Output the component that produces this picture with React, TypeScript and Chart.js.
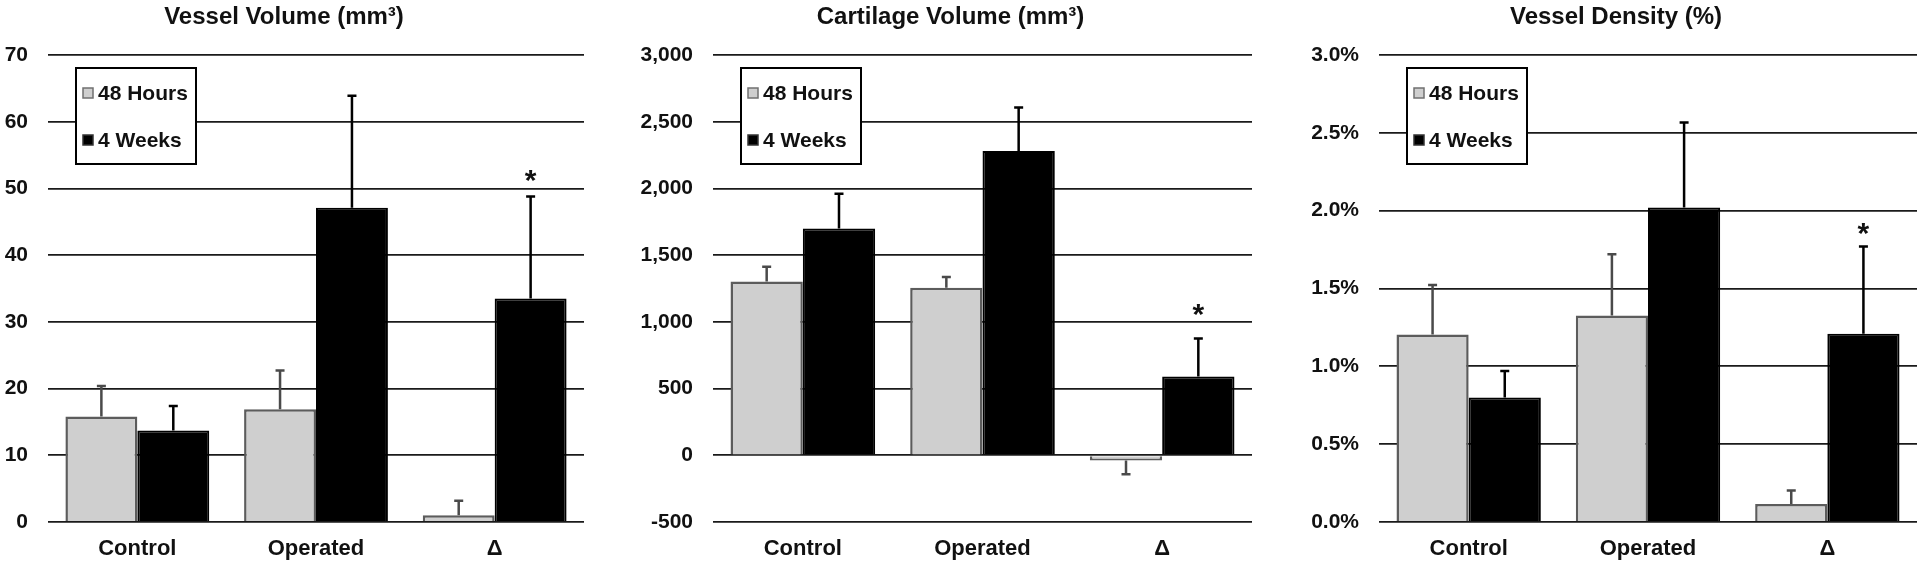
import { useEffect, useRef } from "react";
import { Chart, registerables } from "chart.js";

Chart.register(...registerables);

// ---------- data ----------
const categories = ["Control", "Operated", "Δ"];
const seriesLabels = ["48 Hours", "4 Weeks"];

// Vessel Volume (mm³)
const vesselVolume48h = [15.8, 16.9, 1.0];
const vesselVolume48hSD = [4.6, 5.8, 2.2];
const vesselVolume4w = [13.7, 47.1, 33.5];
const vesselVolume4wSD = [3.7, 16.8, 15.3];
const vesselVolumeStar = [null, null, 52.3];
const vesselVolumeTicks = { min: 0, max: 70, step: 10 };

// Cartilage Volume (mm³)
const cartilage48h = [1302, 1256, -40];
const cartilage48hSD = [111, 81, 103];
const cartilage4w = [1700, 2280, 590];
const cartilage4wSD = [260, 327, 286];
const cartilageStar = [null, null, 1110];
const cartilageTicks = { min: -500, max: 3000, step: 500 };

// Vessel Density (%)
const density48h = [1.205, 1.327, 0.115];
const density48hSD = [0.318, 0.393, 0.088];
const density4w = [0.8, 2.02, 1.21];
const density4wSD = [0.17, 0.546, 0.56];
const densityStar = [null, null, 1.9];
const densityTicks = { min: 0, max: 3, step: 0.5 };

// ---------- style ----------
const FONT = '"Liberation Sans", Arial, Helvetica, sans-serif';
const TEXT = "#111111";
const LIGHT_FILL = "#cfcfcf";
const LIGHT_BORDER = "#5c5c5c";
const DARK_FILL = "#000000";
const DARK_BORDER = "#000000";

type PanelCfg = {
  title: string;
  s1: number[];
  s1sd: number[];
  s2: number[];
  s2sd: number[];
  star: (number | null)[];
  ticks: { min: number; max: number; step: number };
  fmt: (v: number) => string;
  left: number;
  width: number;
  axisWidth: number;
  padRight: number;
};

const decorPlugin = {
  id: "decor",
  afterDatasetsDraw(chart: any, _args: any, opts: any) {
    const ctx = chart.ctx;
    const yScale = chart.scales.y;
    const sds: number[][] = opts.sds;
    ctx.save();
    chart.data.datasets.forEach((ds: any, i: number) => {
      const meta = chart.getDatasetMeta(i);
      meta.data.forEach((el: any, j: number) => {
        const v = ds.data[j] as number;
        const sd = sds[i][j];
        const end = v >= 0 ? v + sd : v - sd;
        const yEnd = yScale.getPixelForValue(end);
        const yStart = yScale.getPixelForValue(v);
        ctx.strokeStyle = i === 0 ? "#4a4a4a" : "#000";
        ctx.lineWidth = 2.5;
        ctx.beginPath();
        ctx.moveTo(el.x, yStart);
        ctx.lineTo(el.x, yEnd);
        ctx.moveTo(el.x - 4.5, yEnd);
        ctx.lineTo(el.x + 4.5, yEnd);
        ctx.stroke();
      });
    });
    // asterisks on the second series
    const stars: (number | null)[] = opts.star;
    const meta2 = chart.getDatasetMeta(1);
    stars.forEach((s, j) => {
      if (s === null) return;
      const x = meta2.data[j].x;
      const y = yScale.getPixelForValue(s);
      ctx.fillStyle = TEXT;
      ctx.font = `bold 30px ${FONT}`;
      ctx.textAlign = "center";
      ctx.textBaseline = "alphabetic";
      ctx.fillText("*", x, y + 0.55 * 30);
    });
    ctx.restore();
  },
  afterDraw(chart: any, _args: any, opts: any) {
    const ctx = chart.ctx;
    const area = chart.chartArea;
    ctx.save();
    // title
    ctx.fillStyle = TEXT;
    ctx.font = `bold 24px ${FONT}`;
    ctx.textAlign = "center";
    ctx.textBaseline = "middle";
    ctx.fillText(opts.title, (area.left + area.right) / 2 - 32, 17);
    // legend box
    const bx = area.left + 28;
    const by = area.top + 13;
    const bw = 120;
    const bh = 96;
    ctx.fillStyle = "#ffffff";
    ctx.fillRect(bx, by, bw, bh);
    ctx.strokeStyle = "#000";
    ctx.lineWidth = 2;
    ctx.strokeRect(bx, by, bw, bh);
    chart.data.datasets.forEach((ds: any, i: number) => {
      const cy = by + 25 + i * 47;
      ctx.fillStyle = ds.backgroundColor;
      ctx.fillRect(bx + 7, cy - 5, 10, 10);
      ctx.strokeStyle = i === 0 ? "#707070" : "#333";
      ctx.lineWidth = 1.5;
      ctx.strokeRect(bx + 7, cy - 5, 10, 10);
      ctx.fillStyle = TEXT;
      ctx.font = `bold 21px ${FONT}`;
      ctx.textAlign = "left";
      ctx.textBaseline = "middle";
      ctx.fillText(ds.label, bx + 22, cy + 1);
    });
    ctx.restore();
  },
};

function Panel({ cfg }: { cfg: PanelCfg }) {
  const ref = useRef<HTMLCanvasElement | null>(null);
  useEffect(() => {
    if (!ref.current) return;
    const chart = new Chart(ref.current, {
      type: "bar",
      data: {
        labels: categories,
        datasets: [
          {
            label: seriesLabels[0],
            data: cfg.s1,
            backgroundColor: LIGHT_FILL,
            borderColor: LIGHT_BORDER,
            borderWidth: 2.5,
            categoryPercentage: 0.805,
            barPercentage: 1.0,
          },
          {
            label: seriesLabels[1],
            data: cfg.s2,
            backgroundColor: DARK_FILL,
            borderColor: DARK_BORDER,
            borderWidth: 2,
            categoryPercentage: 0.805,
            barPercentage: 1.0,
          },
        ],
      },
      options: {
        animation: false,
        responsive: true,
        maintainAspectRatio: false,
        layout: { padding: { top: 55, right: cfg.padRight, left: 0, bottom: 0 } },
        plugins: {
          legend: { display: false },
          tooltip: { enabled: false },
          title: { display: false },
          decor: {
            title: cfg.title,
            sds: [cfg.s1sd, cfg.s2sd],
            star: cfg.star,
          },
        } as any,
        scales: {
          x: {
            grid: { display: false, drawTicks: false },
            border: { display: false },
            ticks: {
              padding: 14,
              color: TEXT,
              font: { family: FONT, size: 22, weight: "bold" },
            },
            afterFit: (s: any) => {
              s.height = 42;
            },
          },
          y: {
            min: cfg.ticks.min,
            max: cfg.ticks.max,
            border: { display: false },
            grid: { color: "#1a1a1a", lineWidth: 1.8, drawTicks: false },
            ticks: {
              stepSize: cfg.ticks.step,
              padding: 20,
              color: TEXT,
              font: { family: FONT, size: 21, weight: "bold" },
              callback: (v: any) => cfg.fmt(Number(v)),
            },
            afterFit: (s: any) => {
              s.width = cfg.axisWidth;
            },
          },
        },
      },
      plugins: [decorPlugin],
    });
    return () => chart.destroy();
  }, [cfg]);
  return (
    <div
      style={{
        position: "absolute",
        left: cfg.left,
        top: 0,
        width: cfg.width,
        height: 564,
      }}
    >
      <canvas ref={ref} />
    </div>
  );
}

const panels: PanelCfg[] = [
  {
    title: "Vessel Volume (mm³)",
    s1: vesselVolume48h,
    s1sd: vesselVolume48hSD,
    s2: vesselVolume4w,
    s2sd: vesselVolume4wSD,
    star: vesselVolumeStar,
    ticks: vesselVolumeTicks,
    fmt: (v) => String(v),
    left: 0,
    width: 600,
    axisWidth: 48,
    padRight: 16,
  },
  {
    title: "Cartilage Volume (mm³)",
    s1: cartilage48h,
    s1sd: cartilage48hSD,
    s2: cartilage4w,
    s2sd: cartilage4wSD,
    star: cartilageStar,
    ticks: cartilageTicks,
    fmt: (v) => v.toLocaleString("en-US"),
    left: 628,
    width: 632,
    axisWidth: 85,
    padRight: 8,
  },
  {
    title: "Vessel Density (%)",
    s1: density48h,
    s1sd: density48hSD,
    s2: density4w,
    s2sd: density4wSD,
    star: densityStar,
    ticks: densityTicks,
    fmt: (v) => v.toFixed(1) + "%",
    left: 1270,
    width: 650,
    axisWidth: 109,
    padRight: 3,
  },
];

export default function App() {
  return (
    <div
      style={{
        position: "fixed",
        left: 0,
        top: 0,
        width: 1920,
        height: 564,
        background: "#fff",
        overflow: "hidden",
      }}
    >
      {panels.map((p, i) => (
        <Panel key={i} cfg={p} />
      ))}
    </div>
  );
}
